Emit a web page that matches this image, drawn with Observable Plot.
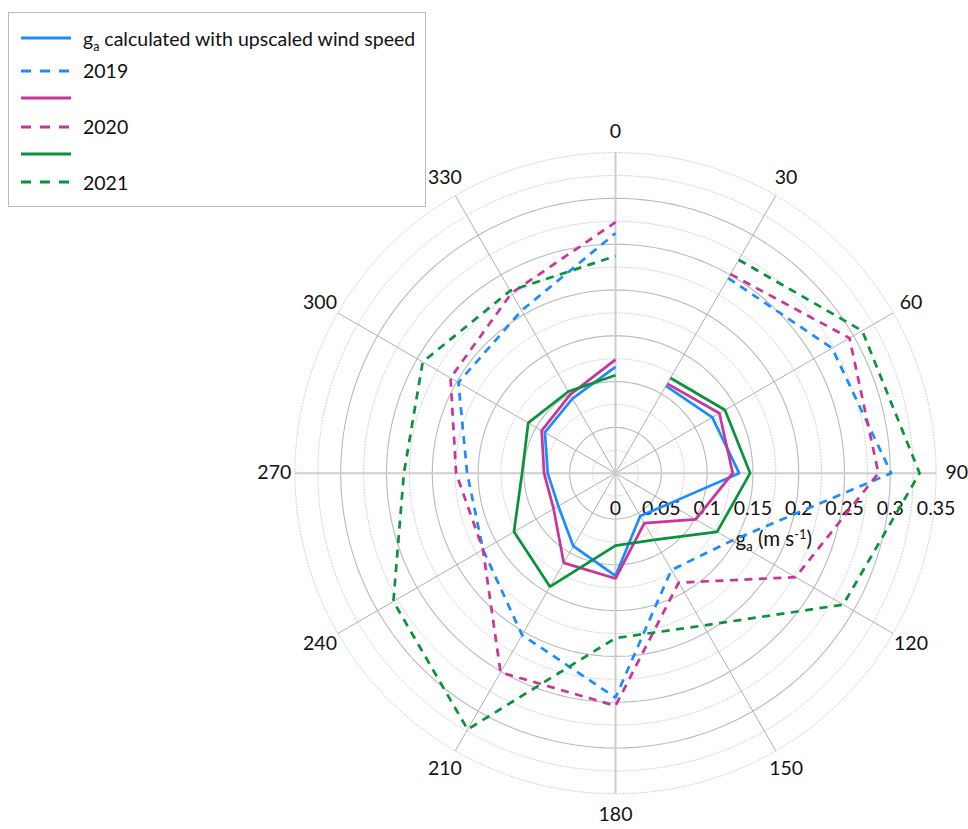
<!DOCTYPE html>
<html>
<head>
<meta charset="utf-8">
<script src="https://cdn.jsdelivr.net/npm/d3@7"></script>
<script src="https://cdn.jsdelivr.net/npm/@observablehq/plot@0.6"></script>
<style>
  body { margin: 0; background: #fff; font-family: Lato, "Open Sans", sans-serif; }
  #wrap { position: relative; width: 968px; height: 829px; }
  #legend { position: absolute; left: 8px; top: 12px; width: 418px; height: 195px;
            border: 1px solid #bdbdbd; background: #fff; box-sizing: border-box; }
  .row { position: absolute; left: 0; height: 24px; display: flex; align-items: center;
         font-size: 19.5px; color: #111; white-space: nowrap; }
  .row svg { margin-left: 12px; margin-right: 12px; }
  .row sub { font-size: 12.5px; vertical-align: -5px; line-height: 0; }
</style>
</head>
<body>
<div id="wrap">
  <div id="chart"></div>
  <div id="legend"></div>
</div>
<script>
// Wind direction (degrees, clockwise from north); each trace runs 30 → 360.
const angles = [30, 60, 90, 120, 150, 180, 210, 240, 270, 300, 330, 360];

// Aerodynamic conductance g_a (m s-1) by direction sector
const upscaled2019 = [0.110, 0.122, 0.135, 0.067, 0.054, 0.112, 0.092, 0.072, 0.074, 0.089, 0.094, 0.116];
const measured2019 = [0.246, 0.273, 0.301, 0.147, 0.122, 0.245, 0.204, 0.167, 0.162, 0.198, 0.205, 0.262];
const upscaled2020 = [0.113, 0.131, 0.128, 0.101, 0.063, 0.115, 0.113, 0.078, 0.078, 0.093, 0.099, 0.124];
const measured2020 = [0.251, 0.295, 0.287, 0.227, 0.138, 0.254, 0.251, 0.167, 0.174, 0.208, 0.227, 0.274];
const upscaled2021 = [0.120, 0.138, 0.147, 0.128, 0.084, 0.079, 0.143, 0.128, 0.102, 0.110, 0.103, 0.107];
const measured2021 = [0.269, 0.311, 0.332, 0.287, 0.192, 0.180, 0.323, 0.280, 0.231, 0.243, 0.230, 0.237];

// Axis ticks
const angleTicks = [0, 30, 60, 90, 120, 150, 180, 210, 240, 270, 300, 330];
const radialTicks = [0, 0.05, 0.1, 0.15, 0.2, 0.25, 0.3, 0.35];
const radialTickLabels = ["0", "0.05", "0.1", "0.15", "0.2", "0.25", "0.3", "0.35"];
const rMax = 0.35;
const angleLabelRadius = 0.3725;
const axisLabel = "ga (m s-1)";

const colors = { 2019: "#1a8cff", 2020: "#cc3399", 2021: "#08923a" };
const dash = "8,6.5";

// Legend entries
const legendItems = [
  { color: colors[2019], dashed: false, html: "g<sub>a</sub> calculated with upscaled wind speed" },
  { color: colors[2019], dashed: true,  html: "2019" },
  { color: colors[2020], dashed: false, html: "" },
  { color: colors[2020], dashed: true,  html: "2020" },
  { color: colors[2021], dashed: false, html: "" },
  { color: colors[2021], dashed: true,  html: "2021" }
];

// Layout of the polar area inside the page
const W = 968, H = 829;
const cx = 615, cy = 472.7, k = 916; // centre (px) and px per unit of g_a

const rad = a => a * Math.PI / 180;
const px = (r, a) => r * Math.sin(rad(a));
const py = (r, a) => r * Math.cos(rad(a));

const trace = values => angles.map((a, i) => ({ a, r: values[i] }));

// Grid rings every 0.025; solid at multiples of 0.05 up to 0.3
const ringLevels = d3.range(1, 15).map(i => +(i * 0.025).toFixed(3));
const ringPts = [];
for (const lvl of ringLevels) {
  for (let a = 0; a < 360; a += 2) ringPts.push({ lvl, a, solid: (Math.round(lvl * 1000) % 50 === 0) && lvl <= 0.3 });
}
const solidRings = ringPts.filter(d => d.solid);
const dottedRings = ringPts.filter(d => !d.solid);

const mainAxes = angleTicks.filter(a => a % 90 === 0);
const minorSpokes = angleTicks.filter(a => a % 90 !== 0);

const lineMark = (values, color, dashed) =>
  Plot.line(trace(values), {
    x: d => px(d.r, d.a), y: d => py(d.r, d.a),
    stroke: color, strokeWidth: 2.7,
    strokeDasharray: dashed ? dash : null,
    strokeLinejoin: "miter", strokeLinecap: "butt"
  });

const chart = Plot.plot({
  width: W, height: H,
  marginTop: 0, marginRight: 0, marginBottom: 0, marginLeft: 0,
  x: { domain: [-cx / k, (W - cx) / k], axis: null },
  y: { domain: [-(H - cy) / k, cy / k], axis: null },
  style: { fontFamily: "Lato, 'Open Sans', sans-serif", fontSize: "19.5px", color: "#111", background: "transparent", overflow: "visible" },
  marks: [
    Plot.line(dottedRings, { x: d => px(d.lvl, d.a), y: d => py(d.lvl, d.a), z: "lvl", curve: "linear-closed",
      stroke: "#c8c8c8", strokeWidth: 0.9, strokeDasharray: "1,2" }),
    Plot.line(solidRings, { x: d => px(d.lvl, d.a), y: d => py(d.lvl, d.a), z: "lvl", curve: "linear-closed",
      stroke: "#b9b9b9", strokeWidth: 1.1 }),
    Plot.link(minorSpokes, { x1: 0, y1: 0, x2: a => px(rMax, a), y2: a => py(rMax, a), stroke: "#b0b0b0", strokeWidth: 1 }),
    Plot.link(mainAxes, { x1: 0, y1: 0, x2: a => px(rMax, a), y2: a => py(rMax, a), stroke: "#cdcdcd", strokeWidth: 2 }),
    Plot.text(angleTicks, { x: a => px(angleLabelRadius, a), y: a => py(angleLabelRadius, a), text: a => String(a), fill: "#111" }),
    Plot.text(radialTicks, { x: d => d, y: 0, dy: 36, text: (d, i) => radialTickLabels[i], fill: "#111" }),
    Plot.text([axisLabel], { x: 0.131, y: 0, dy: 66, text: d => d, textAnchor: "start", fill: "#111", fontSize: 20.5 }),
    lineMark(upscaled2019, colors[2019], false),
    lineMark(measured2019, colors[2019], true),
    lineMark(upscaled2020, colors[2020], false),
    lineMark(measured2020, colors[2020], true),
    lineMark(upscaled2021, colors[2021], false),
    lineMark(measured2021, colors[2021], true)
  ]
});

// Subscript / superscript in the radial axis title
chart.querySelectorAll("text").forEach(t => {
  if (t.textContent === axisLabel) {
    const sel = d3.select(t);
    sel.text(null);
    sel.append("tspan").text("g");
    sel.append("tspan").attr("font-size", 13).attr("dy", 5).text("a");
    sel.append("tspan").attr("dy", -5).text(" (m s");
    sel.append("tspan").attr("font-size", 13).attr("dy", -7).text("-1");
    sel.append("tspan").attr("dy", 7).text(")");
  }
});

document.getElementById("chart").appendChild(chart);

// Legend rows, centred at these offsets from the top of the box
const legend = d3.select("#legend");
const rowCentres = [26.3, 58.7, 86.3, 114.7, 142, 170.3];
legendItems.forEach((item, i) => {
  const row = legend.append("div").attr("class", "row").style("top", (rowCentres[i] - 1 - 12) + "px");
  const s = row.append("svg").attr("width", 50).attr("height", 6);
  s.append("line").attr("x1", 0).attr("x2", 50).attr("y1", 3).attr("y2", 3)
    .attr("stroke", item.color).attr("stroke-width", 3)
    .attr("stroke-dasharray", item.dashed ? "10,9" : null);
  row.append("span").html(item.html);
});
</script>
</body>
</html>
